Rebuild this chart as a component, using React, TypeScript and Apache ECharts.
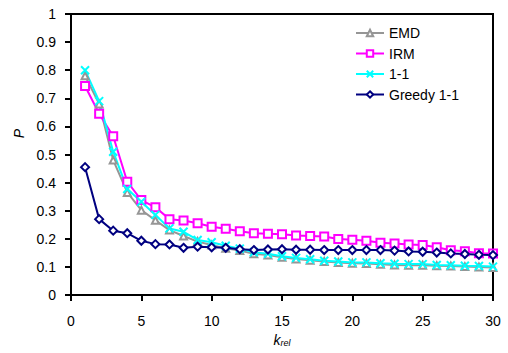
import React, { useEffect, useRef } from "react";
import * as echarts from "echarts";

const kValues = Array.from({ length: 30 }, (_, i) => i + 1);
const emd = [0.78, 0.68, 0.48, 0.365, 0.302, 0.266, 0.231, 0.21, 0.19, 0.178, 0.166, 0.158, 0.147, 0.142, 0.134, 0.128, 0.124, 0.119, 0.116, 0.113, 0.112, 0.109, 0.107, 0.106, 0.106, 0.104, 0.103, 0.101, 0.1, 0.098];
const irm = [0.744, 0.645, 0.565, 0.403, 0.338, 0.312, 0.27, 0.265, 0.255, 0.243, 0.236, 0.227, 0.22, 0.218, 0.216, 0.212, 0.21, 0.208, 0.199, 0.197, 0.193, 0.186, 0.183, 0.18, 0.178, 0.17, 0.159, 0.156, 0.149, 0.148];
const oneToOne = [0.8, 0.69, 0.51, 0.377, 0.332, 0.285, 0.237, 0.225, 0.196, 0.188, 0.175, 0.165, 0.152, 0.147, 0.138, 0.132, 0.127, 0.122, 0.119, 0.116, 0.116, 0.113, 0.111, 0.11, 0.11, 0.107, 0.106, 0.104, 0.103, 0.101];
const greedy = [0.455, 0.27, 0.229, 0.22, 0.193, 0.181, 0.18, 0.168, 0.172, 0.17, 0.168, 0.163, 0.16, 0.162, 0.163, 0.161, 0.161, 0.16, 0.16, 0.16, 0.16, 0.16, 0.158, 0.155, 0.154, 0.151, 0.148, 0.146, 0.143, 0.142];
const seriesNames = ["EMD", "IRM", "1-1", "Greedy 1-1"];

const FONT = "'Liberation Sans', Arial, sans-serif";

export default function App() {
  const ref = useRef<HTMLDivElement>(null);
  useEffect(() => {
    if (!ref.current) return;
    const chart = echarts.init(ref.current, undefined, { renderer: "svg" });
    const pair = (arr: number[]) => kValues.map((k, i) => [k, arr[i]]);
    const mk = (name: string, data: number[], color: string, symbol: string, size: number, extra: any = {}) => ({
      name,
      type: "line",
      data: pair(data),
      symbol,
      symbolSize: size,
      lineStyle: { color, width: 2 },
      itemStyle: { color, borderColor: color, borderWidth: 1.5, ...extra },
      emphasis: { disabled: true },
    });
    chart.setOption({
      animation: false,
      textStyle: { fontFamily: FONT, color: "#000" },
      grid: { left: 71, right: 15, top: 14, bottom: 58, show: true, borderColor: "#000", borderWidth: 2, outerBoundsMode: "none" },
      legend: {
        orient: "vertical",
        left: 350,
        top: 21,
        itemWidth: 28,
        itemHeight: 8,
        itemGap: 6.5,
        textStyle: { fontFamily: FONT, fontSize: 14, color: "#000" },
        data: seriesNames,
      },
      xAxis: {
        type: "value",
        min: 0,
        max: 30,
        interval: 5,
        name: "{k|k}{s|rel}",
        nameLocation: "middle",
        nameGap: 35,
        nameTextStyle: {
          rich: {
            k: { fontFamily: FONT, fontSize: 14, fontStyle: "italic", color: "#000" },
            s: { fontFamily: FONT, fontSize: 9, fontStyle: "italic", color: "#000", verticalAlign: "bottom", padding: [7, 0, 0, 0] },
          },
        },
        axisLine: { lineStyle: { color: "#000", width: 2 } },
        axisTick: { lineStyle: { color: "#000", width: 2 }, length: 6 },
        axisLabel: { fontFamily: FONT, fontSize: 14, color: "#000", margin: 19 },
        splitLine: { show: false },
      },
      yAxis: {
        type: "value",
        min: 0,
        max: 1,
        interval: 0.1,
        name: "P",
        nameLocation: "middle",
        nameGap: 44,
        nameTextStyle: { fontFamily: FONT, fontSize: 14, fontStyle: "italic", color: "#000", padding: [0, 0, 0, 42] },
        axisLine: { show: true, lineStyle: { color: "#000", width: 2 } },
        axisTick: { show: true, lineStyle: { color: "#000", width: 2 }, length: 6 },
        axisLabel: { fontFamily: FONT, fontSize: 14, color: "#000", margin: 15 },
        splitLine: { show: false },
      },
      series: [
        mk("EMD", emd, "#969696", "emptyTriangle", 7),
        mk("IRM", irm, "#ff00ff", "emptyRect", 8),
        mk("1-1", oneToOne, "#00ffff", "path://M0,0L10,10M10,0L0,10", 8, { borderWidth: 2 }),
        mk("Greedy 1-1", greedy, "#000080", "emptyDiamond", 8),
      ],
    });
    return () => chart.dispose();
  }, []);
  return <div ref={ref} style={{ position: "absolute", left: 0, top: 0, width: 508, height: 353 }} />;
}
